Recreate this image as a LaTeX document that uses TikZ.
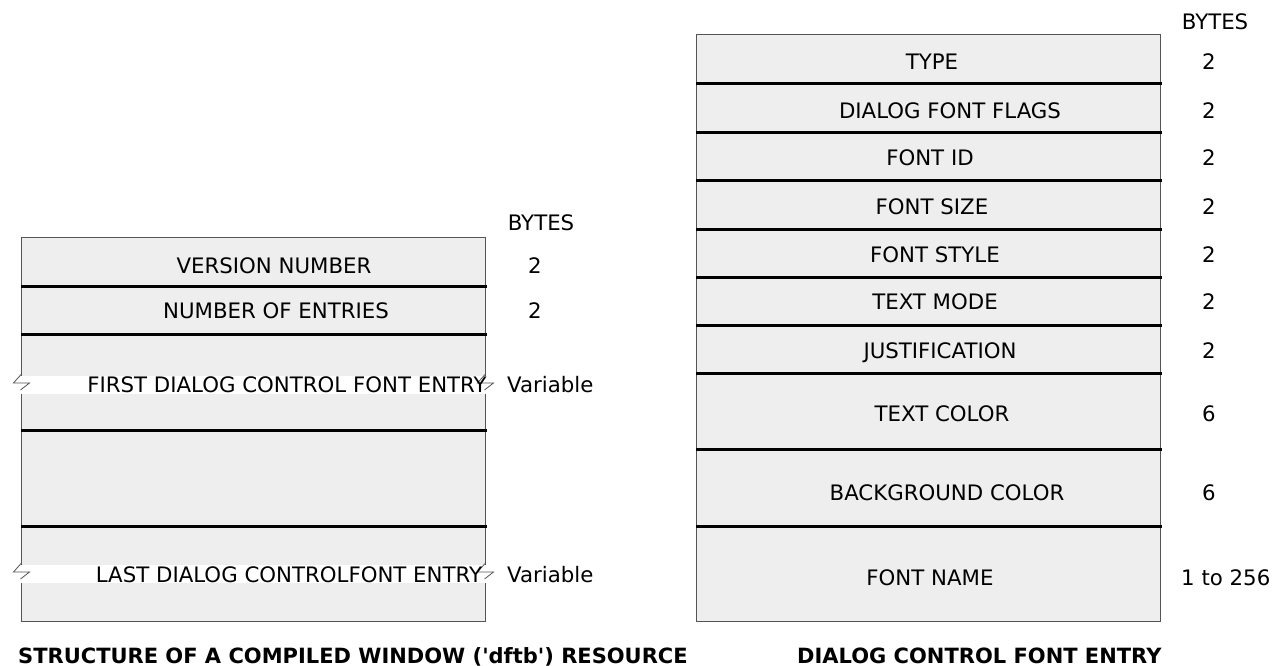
\documentclass[tikz,border=0pt]{standalone}
\usepackage{fontspec}
\setmainfont{DejaVu Sans}[Ligatures=TeXOff]
\definecolor{cellgray}{HTML}{EEEEEE}
\definecolor{edgegray}{HTML}{555555}
\tikzset{
  lbl/.style={anchor=base, inner sep=0pt, font=\fontsize{21.3}{25}\selectfont},
  lblw/.style={anchor=base west, inner sep=0pt, font=\fontsize{21.3}{25}\selectfont},
  ttl/.style={anchor=base west, inner sep=0pt, font=\fontsize{21}{25}\selectfont\bfseries},
  boxfill/.style={fill=cellgray, draw=edgegray, line width=1pt},
  sep/.style={line width=3pt, black},
  zig/.style={line width=0.8pt, edgegray, line join=miter},
  band/.style={fill=white, draw=none}
}
\begin{document}
\begin{tikzpicture}[x=1pt,y=-1pt]
\useasboundingbox (0,0) rectangle (1272,666);
% ---------- left box ----------
\path[boxfill] (21.5,237) rectangle (485.5,621);
\foreach \yy in {286,334,430,526} \draw[sep] (21,\yy) -- (487,\yy);
% break bands
\foreach \yy in {385,574} {
  \fill[band] (20,\yy-9) rectangle (486,\yy+9);
  \draw[zig] (21.5,\yy-11) -- (13.5,\yy-2) -- (29.5,\yy-2) -- (20.5,\yy+5);
  \draw[zig] (485.5,\yy-11) -- (477.5,\yy-2) -- (493.5,\yy-2) -- (484.5,\yy+5);
}
\node[lbl] (lbytes) at (541,230) {BYTES};
\node[lbl] (vn) at (274,273) {VERSION NUMBER};
\node[lbl] (ne) at (276,318) {NUMBER OF ENTRIES};
\node[lbl] (vnb) at (535,273) {2};
\node[lbl] (neb) at (535,318) {2};
\node[lbl] (first) at (287,392) {FIRST DIALOG CONTROL FONT ENTRY};
\node[lblw] (firstb) at (507,392) {Variable};
\node[lbl] (last) at (289,582) {LAST DIALOG CONTROLFONT ENTRY};
\node[lblw] (lastb) at (507,582) {Variable};
\node[ttl] (ltitle) at (18,663) {STRUCTURE OF A COMPILED WINDOW ('dftb') RESOURCE};
% ---------- right box ----------
\path[boxfill] (696,35) rectangle (1160,621);
\foreach \yy in {84,132.5,180.7,229,277,325,373,449.5,526.5} \draw[sep] (696,\yy) -- (1162,\yy);
\node[lbl] (rbytes) at (1215,30) {BYTES};
\node[lbl] (r1) at (932,70) {TYPE};
\node[lbl] (r2) at (950,119) {DIALOG FONT FLAGS};
\node[lbl] (r3) at (930,166) {FONT ID};
\node[lbl] (r4) at (932,214) {FONT SIZE};
\node[lbl] (r5) at (935,262) {FONT STYLE};
\node[lbl] (r6) at (935,309) {TEXT MODE};
\node[lbl] (r7) at (940,358) {JUSTIFICATION};
\node[lbl] (r8) at (942,421) {TEXT COLOR};
\node[lbl] (r9) at (947,500) {BACKGROUND COLOR};
\node[lbl] (r10) at (930,585) {FONT NAME};
\foreach \n/\yy in {1/70,2/119,3/166,4/214,5/262,6/309,7/358} \node[lbl] (b\n) at (1209,\yy) {2};
\node[lbl] (b8) at (1209,421) {6};
\node[lbl] (b9) at (1209,500) {6};
\node[lblw] (b10) at (1181,585) {1 to 256};
\node[ttl] (rtitle) at (797,663) {DIALOG CONTROL FONT ENTRY};
\end{tikzpicture}
\end{document}
